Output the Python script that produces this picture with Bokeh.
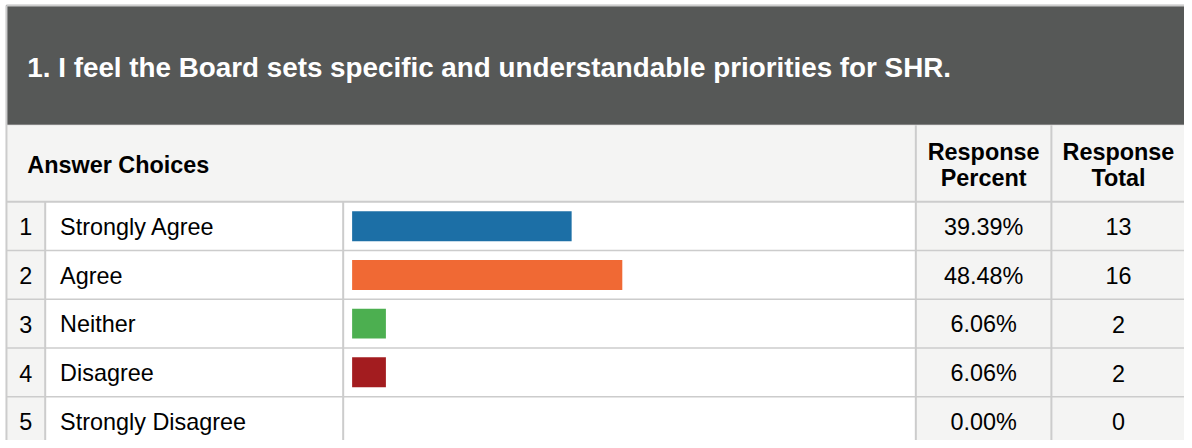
from bokeh.plotting import figure
from bokeh.models import Range1d
from bokeh.core.properties import value
from bokeh.embed import file_html
from bokeh.resources import INLINE

# ---- data ----
title = "1. I feel the Board sets specific and understandable priorities for SHR."
header_choices = "Answer Choices"
header_pct = ["Response", "Percent"]
header_total = ["Response", "Total"]
choices = ["Strongly Agree", "Agree", "Neither", "Disagree", "Strongly Disagree"]
percents = [39.39, 48.48, 6.06, 6.06, 0.00]
totals = [13, 16, 2, 2, 0]
bar_colors = ["#1c6fa6", "#f06934", "#4caf50", "#a31c1f", "#888888"]

# ---- layout (reference-picture coordinates, 1192 x 448) ----
W, H = 1184, 440
RW, RH = 1192, 448
LEFT, RIGHT = 6, 1200
TOP, HEAD_B, HROW_B = 5, 127, 205
ROW_H = 49.6
C_NUM, C_LAB, C_PCT, C_TOT = 45, 345, 921.5, 1058
BAR_X0, PX_PER_PCT = 354, 5.6106
DARK, LIGHT, GRID = "#565857", "#f4f4f3", "#cccccc"
FONT = value("Liberation Sans")
FS = "23.4px"

p = figure(width=W, height=H, output_backend="svg", toolbar_location=None,
           x_range=Range1d(0, RW), y_range=Range1d(RH, 0),
           min_border=0, x_axis_location=None, y_axis_location=None)
p.outline_line_color = None
p.grid.visible = False
p.background_fill_color = "white"
p.border_fill_color = "white"

# percent scale for bars
a = -BAR_X0 / PX_PER_PCT
p.extra_x_ranges = {"pct": Range1d(a, a + RW / PX_PER_PCT)}

n = len(choices)
row_top = [HROW_B + ROW_H * i for i in range(n)]
row_c = [t + ROW_H / 2 for t in row_top]
bottom = RH + 10

# backgrounds
p.quad(left=[LEFT], right=[RIGHT], top=[TOP], bottom=[HEAD_B], color=DARK)
p.quad(left=[LEFT], right=[RIGHT], top=[HEAD_B], bottom=[HROW_B], color=LIGHT)
p.quad(left=[LEFT, C_PCT], right=[C_NUM, RIGHT], top=[HROW_B, HROW_B],
       bottom=[bottom, bottom], color=LIGHT)

# bars
p.hbar(y=row_c, left=0, right=percents, height=30.5, color=bar_colors[:n],
       x_range_name="pct", line_color=None)

# grid lines
hy = [t for t in row_top[1:]]
p.segment(x0=[LEFT] * len(hy), x1=[RIGHT] * len(hy), y0=hy, y1=hy,
          line_color=GRID, line_width=1.5)
p.segment(x0=[LEFT, LEFT], x1=[RIGHT, RIGHT], y0=[HROW_B, TOP], y1=[HROW_B, TOP],
          line_color=GRID, line_width=2)
p.segment(x0=[LEFT, C_NUM, C_LAB], x1=[LEFT, C_NUM, C_LAB], y0=[TOP, HROW_B, HROW_B],
          y1=[bottom] * 3, line_color=GRID, line_width=2)
p.segment(x0=[C_PCT, C_TOT], x1=[C_PCT, C_TOT], y0=[HEAD_B] * 2, y1=[bottom] * 2,
          line_color=GRID, line_width=2)

# title
p.text(x=[27], y=[68], text=[title], text_color="white", text_font=FONT,
       text_font_size="27.8px", text_font_style="bold", text_baseline="middle")
# header row
p.text(x=[27], y=[167], text=[header_choices], text_color="black", text_font=FONT,
       text_font_size=FS, text_font_style="bold", text_baseline="middle")
p.text(x=[(C_PCT + C_TOT) / 2] * 2, y=[154, 181.2], text=header_pct, text_color="black",
       text_font=FONT, text_font_size=FS, text_font_style="bold",
       text_baseline="middle", text_align="center")
p.text(x=[1125.5] * 2, y=[154, 181.2], text=header_total, text_color="black",
       text_font=FONT, text_font_size=FS, text_font_style="bold",
       text_baseline="middle", text_align="center")

# rows
mid = [c + 0.7 for c in row_c]
p.text(x=[25.5] * n, y=mid, text=[str(i + 1) for i in range(n)], text_color="black",
       text_font=FONT, text_font_size=FS, text_baseline="middle", text_align="center")
p.text(x=[60] * n, y=mid, text=choices, text_color="black",
       text_font=FONT, text_font_size=FS, text_baseline="middle")
p.text(x=[(C_PCT + C_TOT) / 2] * n, y=mid, text=[f"{v:.2f}%" for v in percents],
       text_color="black", text_font=FONT, text_font_size=FS,
       text_baseline="middle", text_align="center")
p.text(x=[1125.5] * n, y=mid, text=[str(t) for t in totals], text_color="black",
       text_font=FONT, text_font_size=FS, text_baseline="middle", text_align="center")

open("out.html", "w").write(file_html(p, INLINE))
